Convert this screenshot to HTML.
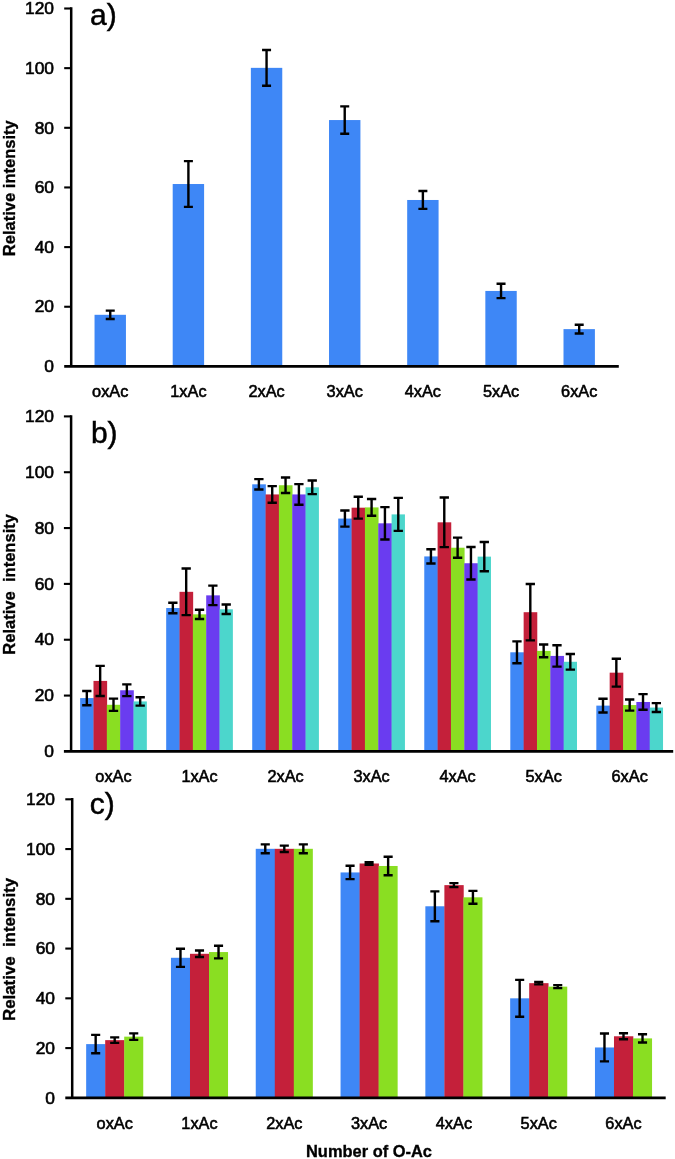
<!DOCTYPE html><html><head><meta charset="utf-8"><style>html,body{margin:0;padding:0;background:#fff;}svg{display:block;will-change:transform;}text{font-family:"Liberation Sans", sans-serif;}</style></head><body>
<svg width="675" height="1159" viewBox="0 0 675 1159">
<rect width="675" height="1159" fill="#fff"/>
<g><rect x="94.54" y="314.8" width="31.4" height="51.6" fill="#3e87f6"/><rect x="172.7" y="184.02" width="31.4" height="182.38" fill="#3e87f6"/><rect x="250.86" y="67.85" width="31.4" height="298.55" fill="#3e87f6"/><rect x="329.02" y="120.05" width="31.4" height="246.35" fill="#3e87f6"/><rect x="407.18" y="199.98" width="31.4" height="166.42" fill="#3e87f6"/><rect x="485.34" y="290.94" width="31.4" height="75.46" fill="#3e87f6"/><rect x="563.5" y="329.12" width="31.4" height="37.28" fill="#3e87f6"/><path d="M110.24 310.63V318.98M105.74 310.63H114.74M105.74 318.98H114.74" stroke="#000" stroke-width="2.4" fill="none"/><path d="M188.4 161.14V206.9M183.9 161.14H192.9M183.9 206.9H192.9" stroke="#000" stroke-width="2.4" fill="none"/><path d="M266.56 49.96V85.75M262.06 49.96H271.06M262.06 85.75H271.06" stroke="#000" stroke-width="2.4" fill="none"/><path d="M344.72 106.42V133.68M340.22 106.42H349.22M340.22 133.68H349.22" stroke="#000" stroke-width="2.4" fill="none"/><path d="M422.88 191.03V208.92M418.38 191.03H427.38M418.38 208.92H427.38" stroke="#000" stroke-width="2.4" fill="none"/><path d="M501.04 283.78V298.1M496.54 283.78H505.54M496.54 298.1H505.54" stroke="#000" stroke-width="2.4" fill="none"/><path d="M579.2 324.79V333.44M574.7 324.79H583.7M574.7 333.44H583.7" stroke="#000" stroke-width="2.4" fill="none"/><path d="M71.2 7.3V366.4" stroke="#000" stroke-width="2.5"/><path d="M64.2 366.4H618.8" stroke="#000" stroke-width="2.8"/><path d="M64.2 306.75H71.2" stroke="#000" stroke-width="2.1"/><path d="M64.2 247.1H71.2" stroke="#000" stroke-width="2.1"/><path d="M64.2 187.45H71.2" stroke="#000" stroke-width="2.1"/><path d="M64.2 127.8H71.2" stroke="#000" stroke-width="2.1"/><path d="M64.2 68.15H71.2" stroke="#000" stroke-width="2.1"/><path d="M64.2 8.5H71.2" stroke="#000" stroke-width="2.1"/><text x="54" y="372.1" font-size="17.4" text-anchor="end" stroke="#000" stroke-width="0.6">0</text><text x="54" y="312.45" font-size="17.4" text-anchor="end" stroke="#000" stroke-width="0.6">20</text><text x="54" y="252.8" font-size="17.4" text-anchor="end" stroke="#000" stroke-width="0.6">40</text><text x="54" y="193.15" font-size="17.4" text-anchor="end" stroke="#000" stroke-width="0.6">60</text><text x="54" y="133.5" font-size="17.4" text-anchor="end" stroke="#000" stroke-width="0.6">80</text><text x="54" y="73.85" font-size="17.4" text-anchor="end" stroke="#000" stroke-width="0.6">100</text><text x="54" y="14.2" font-size="17.4" text-anchor="end" stroke="#000" stroke-width="0.6">120</text><text transform="translate(110.24 397) scale(0.96 1)" font-size="17.0" text-anchor="middle" stroke="#000" stroke-width="0.6">oxAc</text><text transform="translate(188.4 397) scale(0.96 1)" font-size="17.0" text-anchor="middle" stroke="#000" stroke-width="0.6">1xAc</text><text transform="translate(266.56 397) scale(0.96 1)" font-size="17.0" text-anchor="middle" stroke="#000" stroke-width="0.6">2xAc</text><text transform="translate(344.72 397) scale(0.96 1)" font-size="17.0" text-anchor="middle" stroke="#000" stroke-width="0.6">3xAc</text><text transform="translate(422.88 397) scale(0.96 1)" font-size="17.0" text-anchor="middle" stroke="#000" stroke-width="0.6">4xAc</text><text transform="translate(501.04 397) scale(0.96 1)" font-size="17.0" text-anchor="middle" stroke="#000" stroke-width="0.6">5xAc</text><text transform="translate(579.2 397) scale(0.96 1)" font-size="17.0" text-anchor="middle" stroke="#000" stroke-width="0.6">6xAc</text><text transform="translate(15.2 256.2) rotate(-90)" font-size="17" font-weight="bold" stroke="#000" stroke-width="0.35" textLength="136" lengthAdjust="spacingAndGlyphs" x="0" y="0">Relative intensity</text><text x="90" y="25" font-size="30" stroke="#000" stroke-width="0.5">a)</text></g>
<g><rect x="80.15" y="698.08" width="13.64" height="53.32" fill="#3e87f6"/><rect x="93.49" y="680.91" width="13.64" height="70.49" fill="#c4203a"/><rect x="106.83" y="704.78" width="13.64" height="46.62" fill="#8ade22"/><rect x="120.17" y="690.26" width="13.64" height="61.14" fill="#6a3cf0"/><rect x="133.51" y="701.43" width="13.34" height="49.97" fill="#4cd6cc"/><rect x="166.18" y="608.02" width="13.64" height="143.38" fill="#3e87f6"/><rect x="179.52" y="591.83" width="13.64" height="159.57" fill="#c4203a"/><rect x="192.86" y="614.33" width="13.64" height="137.07" fill="#8ade22"/><rect x="206.2" y="595.35" width="13.64" height="156.05" fill="#6a3cf0"/><rect x="219.54" y="609.3" width="13.34" height="142.1" fill="#4cd6cc"/><rect x="252.21" y="484.32" width="13.64" height="267.08" fill="#3e87f6"/><rect x="265.55" y="494.43" width="13.64" height="256.97" fill="#c4203a"/><rect x="278.89" y="485.24" width="13.64" height="266.16" fill="#8ade22"/><rect x="292.23" y="494.43" width="13.64" height="256.97" fill="#6a3cf0"/><rect x="305.57" y="487.31" width="13.34" height="264.09" fill="#4cd6cc"/><rect x="338.24" y="518.57" width="13.64" height="232.83" fill="#3e87f6"/><rect x="351.58" y="507.69" width="13.64" height="243.71" fill="#c4203a"/><rect x="364.92" y="507.41" width="13.64" height="243.99" fill="#8ade22"/><rect x="378.26" y="523.32" width="13.64" height="228.08" fill="#6a3cf0"/><rect x="391.6" y="514.39" width="13.34" height="237.01" fill="#4cd6cc"/><rect x="424.27" y="556.43" width="13.64" height="194.97" fill="#3e87f6"/><rect x="437.61" y="522.32" width="13.64" height="229.08" fill="#c4203a"/><rect x="450.95" y="547.72" width="13.64" height="203.68" fill="#8ade22"/><rect x="464.29" y="563.24" width="13.64" height="188.16" fill="#6a3cf0"/><rect x="477.63" y="556.63" width="13.34" height="194.77" fill="#4cd6cc"/><rect x="510.3" y="652.3" width="13.64" height="99.1" fill="#3e87f6"/><rect x="523.64" y="612.21" width="13.64" height="139.19" fill="#c4203a"/><rect x="536.98" y="650.9" width="13.64" height="100.5" fill="#8ade22"/><rect x="550.32" y="655.92" width="13.64" height="95.48" fill="#6a3cf0"/><rect x="563.66" y="661.79" width="13.34" height="89.61" fill="#4cd6cc"/><rect x="596.33" y="705.62" width="13.64" height="45.78" fill="#3e87f6"/><rect x="609.67" y="672.67" width="13.64" height="78.73" fill="#c4203a"/><rect x="623.01" y="705.06" width="13.64" height="46.34" fill="#8ade22"/><rect x="636.35" y="701.99" width="13.64" height="49.41" fill="#6a3cf0"/><rect x="649.69" y="707.57" width="13.34" height="43.83" fill="#4cd6cc"/><path d="M86.82 690.96V705.2M82.17 690.96H91.47M82.17 705.2H91.47" stroke="#000" stroke-width="2.4" fill="none"/><path d="M100.16 665.84V695.99M95.51 665.84H104.81M95.51 695.99H104.81" stroke="#000" stroke-width="2.4" fill="none"/><path d="M113.5 698.64V710.92M108.85 698.64H118.15M108.85 710.92H118.15" stroke="#000" stroke-width="2.4" fill="none"/><path d="M126.84 684.4V696.12M122.19 684.4H131.49M122.19 696.12H131.49" stroke="#000" stroke-width="2.4" fill="none"/><path d="M140.18 697.24V705.62M135.53 697.24H144.83M135.53 705.62H144.83" stroke="#000" stroke-width="2.4" fill="none"/><path d="M172.85 602.8V613.24M168.2 602.8H177.5M168.2 613.24H177.5" stroke="#000" stroke-width="2.4" fill="none"/><path d="M186.19 568.52V615.14M181.54 568.52H190.84M181.54 615.14H190.84" stroke="#000" stroke-width="2.4" fill="none"/><path d="M199.53 609.72V618.94M194.88 609.72H204.18M194.88 618.94H204.18" stroke="#000" stroke-width="2.4" fill="none"/><path d="M212.87 585.58V605.12M208.22 585.58H217.52M208.22 605.12H217.52" stroke="#000" stroke-width="2.4" fill="none"/><path d="M226.21 604.56V614.05M221.56 604.56H230.86M221.56 614.05H230.86" stroke="#000" stroke-width="2.4" fill="none"/><path d="M258.88 479.16V489.49M254.23 479.16H263.53M254.23 489.49H263.53" stroke="#000" stroke-width="2.4" fill="none"/><path d="M272.22 486.14V502.72M267.57 486.14H276.87M267.57 502.72H276.87" stroke="#000" stroke-width="2.4" fill="none"/><path d="M285.56 477.43V493.06M280.91 477.43H290.21M280.91 493.06H290.21" stroke="#000" stroke-width="2.4" fill="none"/><path d="M298.9 484.1V504.76M294.25 484.1H303.55M294.25 504.76H303.55" stroke="#000" stroke-width="2.4" fill="none"/><path d="M312.24 480.47V494.15M307.59 480.47H316.89M307.59 494.15H316.89" stroke="#000" stroke-width="2.4" fill="none"/><path d="M344.91 510.48V526.67M340.26 510.48H349.56M340.26 526.67H349.56" stroke="#000" stroke-width="2.4" fill="none"/><path d="M358.25 496.8V518.58M353.6 496.8H362.9M353.6 518.58H362.9" stroke="#000" stroke-width="2.4" fill="none"/><path d="M371.59 499.03V515.78M366.94 499.03H376.24M366.94 515.78H376.24" stroke="#000" stroke-width="2.4" fill="none"/><path d="M384.93 507.13V539.51M380.28 507.13H389.58M380.28 539.51H389.58" stroke="#000" stroke-width="2.4" fill="none"/><path d="M398.27 497.92V530.86M393.62 497.92H402.92M393.62 530.86H402.92" stroke="#000" stroke-width="2.4" fill="none"/><path d="M430.94 549.31V563.55M426.29 549.31H435.59M426.29 563.55H435.59" stroke="#000" stroke-width="2.4" fill="none"/><path d="M444.28 497.47V547.16M439.63 497.47H448.93M439.63 547.16H448.93" stroke="#000" stroke-width="2.4" fill="none"/><path d="M457.62 537.67V557.77M452.97 537.67H462.27M452.97 557.77H462.27" stroke="#000" stroke-width="2.4" fill="none"/><path d="M470.96 547.05V579.43M466.31 547.05H475.61M466.31 579.43H475.61" stroke="#000" stroke-width="2.4" fill="none"/><path d="M484.3 541.97V571.28M479.65 541.97H488.95M479.65 571.28H488.95" stroke="#000" stroke-width="2.4" fill="none"/><path d="M516.97 641.41V663.18M512.32 641.41H521.62M512.32 663.18H521.62" stroke="#000" stroke-width="2.4" fill="none"/><path d="M530.31 584.01V640.4M525.66 584.01H534.96M525.66 640.4H534.96" stroke="#000" stroke-width="2.4" fill="none"/><path d="M543.65 644.48V657.32M539 644.48H548.3M539 657.32H548.3" stroke="#000" stroke-width="2.4" fill="none"/><path d="M556.99 645.18V666.67M552.34 645.18H561.64M552.34 666.67H561.64" stroke="#000" stroke-width="2.4" fill="none"/><path d="M570.33 653.97V669.6M565.68 653.97H574.98M565.68 669.6H574.98" stroke="#000" stroke-width="2.4" fill="none"/><path d="M603 698.78V712.46M598.35 698.78H607.65M598.35 712.46H607.65" stroke="#000" stroke-width="2.4" fill="none"/><path d="M616.34 658.72V686.63M611.69 658.72H620.99M611.69 686.63H620.99" stroke="#000" stroke-width="2.4" fill="none"/><path d="M629.68 699.48V710.64M625.03 699.48H634.33M625.03 710.64H634.33" stroke="#000" stroke-width="2.4" fill="none"/><path d="M643.02 694.17V709.8M638.37 694.17H647.67M638.37 709.8H647.67" stroke="#000" stroke-width="2.4" fill="none"/><path d="M656.36 703.1V712.04M651.71 703.1H661.01M651.71 712.04H661.01" stroke="#000" stroke-width="2.4" fill="none"/><path d="M71.1 415.2V751.4" stroke="#000" stroke-width="2.5"/><path d="M63.9 751.4H673.2" stroke="#000" stroke-width="2.8"/><path d="M63.9 695.57H71.1" stroke="#000" stroke-width="2.1"/><path d="M63.9 639.73H71.1" stroke="#000" stroke-width="2.1"/><path d="M63.9 583.9H71.1" stroke="#000" stroke-width="2.1"/><path d="M63.9 528.07H71.1" stroke="#000" stroke-width="2.1"/><path d="M63.9 472.23H71.1" stroke="#000" stroke-width="2.1"/><path d="M63.9 416.4H71.1" stroke="#000" stroke-width="2.1"/><text x="54" y="757.1" font-size="17.4" text-anchor="end" stroke="#000" stroke-width="0.6">0</text><text x="54" y="701.27" font-size="17.4" text-anchor="end" stroke="#000" stroke-width="0.6">20</text><text x="54" y="645.43" font-size="17.4" text-anchor="end" stroke="#000" stroke-width="0.6">40</text><text x="54" y="589.6" font-size="17.4" text-anchor="end" stroke="#000" stroke-width="0.6">60</text><text x="54" y="533.77" font-size="17.4" text-anchor="end" stroke="#000" stroke-width="0.6">80</text><text x="54" y="477.93" font-size="17.4" text-anchor="end" stroke="#000" stroke-width="0.6">100</text><text x="54" y="422.1" font-size="17.4" text-anchor="end" stroke="#000" stroke-width="0.6">120</text><text transform="translate(113.5 782.2) scale(0.96 1)" font-size="17.0" text-anchor="middle" stroke="#000" stroke-width="0.6">oxAc</text><text transform="translate(199.53 782.2) scale(0.96 1)" font-size="17.0" text-anchor="middle" stroke="#000" stroke-width="0.6">1xAc</text><text transform="translate(285.56 782.2) scale(0.96 1)" font-size="17.0" text-anchor="middle" stroke="#000" stroke-width="0.6">2xAc</text><text transform="translate(371.59 782.2) scale(0.96 1)" font-size="17.0" text-anchor="middle" stroke="#000" stroke-width="0.6">3xAc</text><text transform="translate(457.62 782.2) scale(0.96 1)" font-size="17.0" text-anchor="middle" stroke="#000" stroke-width="0.6">4xAc</text><text transform="translate(543.65 782.2) scale(0.96 1)" font-size="17.0" text-anchor="middle" stroke="#000" stroke-width="0.6">5xAc</text><text transform="translate(629.68 782.2) scale(0.96 1)" font-size="17.0" text-anchor="middle" stroke="#000" stroke-width="0.6">6xAc</text><text transform="translate(15.2 654.7) rotate(-90)" font-size="17" font-weight="bold" stroke="#000" stroke-width="0.35" textLength="140.7" lengthAdjust="spacingAndGlyphs" x="0" y="0">Relative  intensity</text><text x="90.9" y="442.6" font-size="30" stroke="#000" stroke-width="0.5">b)</text></g>
<g><rect x="86.16" y="1044.11" width="19.33" height="53.74" fill="#3e87f6"/><rect x="105.19" y="1040.13" width="19.33" height="57.72" fill="#c4203a"/><rect x="124.22" y="1036.65" width="19.03" height="61.2" fill="#8ade22"/><rect x="170.95" y="957.78" width="19.33" height="140.07" fill="#3e87f6"/><rect x="189.98" y="953.8" width="19.33" height="144.05" fill="#c4203a"/><rect x="209.01" y="952.06" width="19.03" height="145.79" fill="#8ade22"/><rect x="255.75" y="848.81" width="19.33" height="249.04" fill="#3e87f6"/><rect x="274.78" y="848.81" width="19.33" height="249.04" fill="#c4203a"/><rect x="293.81" y="848.81" width="19.03" height="249.04" fill="#8ade22"/><rect x="340.55" y="872.44" width="19.33" height="225.41" fill="#3e87f6"/><rect x="359.58" y="863.49" width="19.33" height="234.36" fill="#c4203a"/><rect x="378.61" y="865.98" width="19.03" height="231.87" fill="#8ade22"/><rect x="425.35" y="906.28" width="19.33" height="191.57" fill="#3e87f6"/><rect x="444.38" y="885.13" width="19.33" height="212.72" fill="#c4203a"/><rect x="463.41" y="897.32" width="19.03" height="200.53" fill="#8ade22"/><rect x="510.16" y="998.33" width="19.33" height="99.52" fill="#3e87f6"/><rect x="529.19" y="983.16" width="19.33" height="114.69" fill="#c4203a"/><rect x="548.22" y="986.64" width="19.03" height="111.21" fill="#8ade22"/><rect x="594.96" y="1047.47" width="19.33" height="50.38" fill="#3e87f6"/><rect x="613.99" y="1036.27" width="19.33" height="61.58" fill="#c4203a"/><rect x="633.02" y="1038.39" width="19.03" height="59.46" fill="#8ade22"/><path d="M95.67 1034.91V1053.32M91.12 1034.91H100.22M91.12 1053.32H100.22" stroke="#000" stroke-width="2.4" fill="none"/><path d="M114.7 1037.39V1042.87M110.15 1037.39H119.25M110.15 1042.87H119.25" stroke="#000" stroke-width="2.4" fill="none"/><path d="M133.73 1033.41V1039.88M129.18 1033.41H138.28M129.18 1039.88H138.28" stroke="#000" stroke-width="2.4" fill="none"/><path d="M180.47 948.7V966.86M175.92 948.7H185.02M175.92 966.86H185.02" stroke="#000" stroke-width="2.4" fill="none"/><path d="M199.5 950.57V957.03M194.95 950.57H204.05M194.95 957.03H204.05" stroke="#000" stroke-width="2.4" fill="none"/><path d="M218.53 945.71V958.4M213.98 945.71H223.08M213.98 958.4H223.08" stroke="#000" stroke-width="2.4" fill="none"/><path d="M265.27 844.33V853.29M260.72 844.33H269.82M260.72 853.29H269.82" stroke="#000" stroke-width="2.4" fill="none"/><path d="M284.3 845.58V852.04M279.75 845.58H288.85M279.75 852.04H288.85" stroke="#000" stroke-width="2.4" fill="none"/><path d="M303.33 844.33V853.29M298.78 844.33H307.88M298.78 853.29H307.88" stroke="#000" stroke-width="2.4" fill="none"/><path d="M350.07 865.73V879.16M345.52 865.73H354.62M345.52 879.16H354.62" stroke="#000" stroke-width="2.4" fill="none"/><path d="M369.1 862.24V864.73M364.55 862.24H373.65M364.55 864.73H373.65" stroke="#000" stroke-width="2.4" fill="none"/><path d="M388.13 856.77V875.18M383.58 856.77H392.68M383.58 875.18H392.68" stroke="#000" stroke-width="2.4" fill="none"/><path d="M434.87 891.35V921.21M430.32 891.35H439.42M430.32 921.21H439.42" stroke="#000" stroke-width="2.4" fill="none"/><path d="M453.9 883.14V887.12M449.35 883.14H458.45M449.35 887.12H458.45" stroke="#000" stroke-width="2.4" fill="none"/><path d="M472.93 890.86V903.79M468.38 890.86H477.48M468.38 903.79H477.48" stroke="#000" stroke-width="2.4" fill="none"/><path d="M519.67 979.92V1016.74M515.12 979.92H524.22M515.12 1016.74H524.22" stroke="#000" stroke-width="2.4" fill="none"/><path d="M538.7 981.91V984.4M534.15 981.91H543.25M534.15 984.4H543.25" stroke="#000" stroke-width="2.4" fill="none"/><path d="M557.73 985.15V988.13M553.18 985.15H562.28M553.18 988.13H562.28" stroke="#000" stroke-width="2.4" fill="none"/><path d="M604.47 1033.54V1061.4M599.92 1033.54H609.02M599.92 1061.4H609.02" stroke="#000" stroke-width="2.4" fill="none"/><path d="M623.5 1033.29V1039.26M618.95 1033.29H628.05M618.95 1039.26H628.05" stroke="#000" stroke-width="2.4" fill="none"/><path d="M642.53 1034.28V1042.49M637.98 1034.28H647.08M637.98 1042.49H647.08" stroke="#000" stroke-width="2.4" fill="none"/><path d="M72.2 798.1V1097.85" stroke="#000" stroke-width="2.5"/><path d="M65.3 1097.85H665.7" stroke="#000" stroke-width="2.8"/><path d="M65.3 1048.09H72.2" stroke="#000" stroke-width="2.1"/><path d="M65.3 998.33H72.2" stroke="#000" stroke-width="2.1"/><path d="M65.3 948.57H72.2" stroke="#000" stroke-width="2.1"/><path d="M65.3 898.82H72.2" stroke="#000" stroke-width="2.1"/><path d="M65.3 849.06H72.2" stroke="#000" stroke-width="2.1"/><path d="M65.3 799.3H72.2" stroke="#000" stroke-width="2.1"/><text x="55" y="1103.55" font-size="17.4" text-anchor="end" stroke="#000" stroke-width="0.6">0</text><text x="55" y="1053.79" font-size="17.4" text-anchor="end" stroke="#000" stroke-width="0.6">20</text><text x="55" y="1004.03" font-size="17.4" text-anchor="end" stroke="#000" stroke-width="0.6">40</text><text x="55" y="954.27" font-size="17.4" text-anchor="end" stroke="#000" stroke-width="0.6">60</text><text x="55" y="904.52" font-size="17.4" text-anchor="end" stroke="#000" stroke-width="0.6">80</text><text x="55" y="854.76" font-size="17.4" text-anchor="end" stroke="#000" stroke-width="0.6">100</text><text x="55" y="805" font-size="17.4" text-anchor="end" stroke="#000" stroke-width="0.6">120</text><text transform="translate(114.7 1129) scale(0.96 1)" font-size="17.0" text-anchor="middle" stroke="#000" stroke-width="0.6">oxAc</text><text transform="translate(199.5 1129) scale(0.96 1)" font-size="17.0" text-anchor="middle" stroke="#000" stroke-width="0.6">1xAc</text><text transform="translate(284.3 1129) scale(0.96 1)" font-size="17.0" text-anchor="middle" stroke="#000" stroke-width="0.6">2xAc</text><text transform="translate(369.1 1129) scale(0.96 1)" font-size="17.0" text-anchor="middle" stroke="#000" stroke-width="0.6">3xAc</text><text transform="translate(453.9 1129) scale(0.96 1)" font-size="17.0" text-anchor="middle" stroke="#000" stroke-width="0.6">4xAc</text><text transform="translate(538.7 1129) scale(0.96 1)" font-size="17.0" text-anchor="middle" stroke="#000" stroke-width="0.6">5xAc</text><text transform="translate(623.5 1129) scale(0.96 1)" font-size="17.0" text-anchor="middle" stroke="#000" stroke-width="0.6">6xAc</text><text transform="translate(15.2 1020.9) rotate(-90)" font-size="17" font-weight="bold" stroke="#000" stroke-width="0.35" textLength="143" lengthAdjust="spacingAndGlyphs" x="0" y="0">Relative  intensity</text><text x="89.7" y="814.3" font-size="30" stroke="#000" stroke-width="0.5">c)</text></g>
<text x="306" y="1156.8" font-size="17" font-weight="bold" stroke="#000" stroke-width="0.35" textLength="126" lengthAdjust="spacingAndGlyphs">Number of O-Ac</text>
</svg></body></html>
